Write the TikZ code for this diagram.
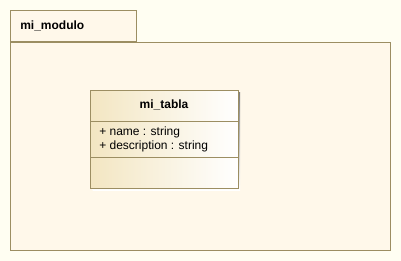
\documentclass[tikz,border=0pt]{standalone}
\usepackage{fontspec}
\setmainfont{Liberation Sans}
\usetikzlibrary{positioning}
\definecolor{canvas}{HTML}{FFFEF2}
\definecolor{pkgfill}{HTML}{FFF8EA}
\definecolor{umlline}{HTML}{9C8E62}
\definecolor{clsleft}{HTML}{F3E6C2}
\definecolor{shade}{HTML}{C4BFB0}
\tikzset{
  umledge/.style={draw=umlline, line width=0.75pt},
  label/.style={font=\fontsize{9}{10}\selectfont, inner sep=0pt, text=black},
  bold label/.style={label, font=\fontsize{9}{10}\selectfont\bfseries},
}
\begin{document}
\begin{tikzpicture}[x=0.75pt,y=-0.75pt]
  % canvas
  \fill[canvas] (0,0) rectangle (401,261);
  \useasboundingbox (0,0) rectangle (401,261);

  % package: tab and body
  \path[umledge, fill=pkgfill] (10.5,10.5) rectangle (136,41);
  \path[umledge, fill=pkgfill] (10.5,42.5) rectangle (390,250);
  \node[bold label, anchor=west] (pkgname) at (20,25.5) {mi\_modulo};

  % class box with shadow
  \fill[shade] (92.5,92.5) rectangle (240,190);
  \shade[left color=clsleft, right color=white] (90.5,90.5) rectangle (238,188);
  \path[umledge] (90.5,90.5) rectangle (238,188);
  \draw[umledge] (90.5,121.5) -- (238,121.5);
  \draw[umledge] (90.5,157.5) -- (238,157.5);
  \node[bold label] (clsname) at (164,104.5) {mi\_tabla};
  \node[label, anchor=west] (attr1) at (99,132.5) {+ name : string};
  \node[label, anchor=west] (attr2) at (99,146) {+ description : string};
\end{tikzpicture}
\end{document}
